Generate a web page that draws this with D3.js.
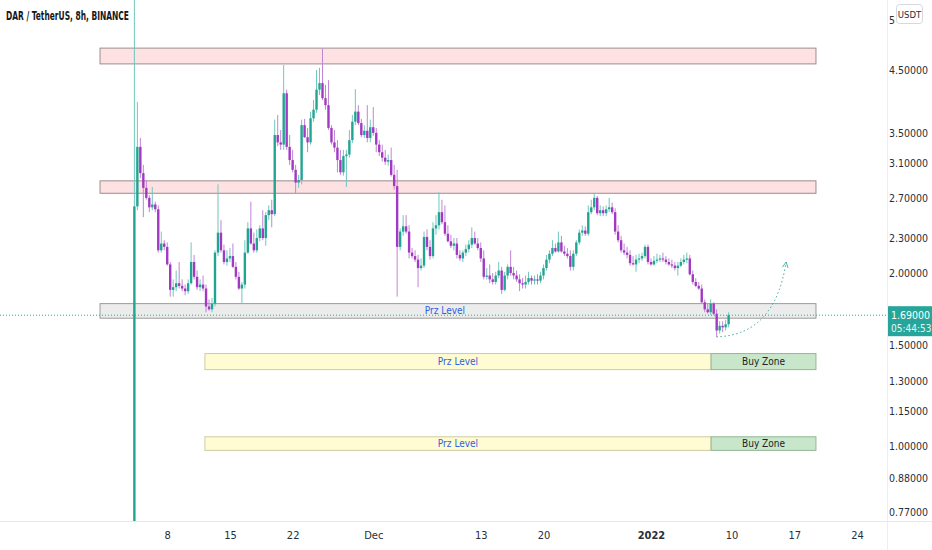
<!DOCTYPE html>
<meta charset="utf-8">
<script src="https://d3js.org/d3.v7.min.js"></script>
<style>
  body { margin: 0; background: #fff; }
  svg { display: block; font-family: "DejaVu Sans Condensed", "Liberation Sans Narrow", sans-serif; }
</style>
<div id="chart"></div>
<script>

// ---- data ----
var title = "DAR / TetherUS, 8h, BINANCE";

// 8h bars, the first one opens Nov 4 2021 08:00
var firstBar = new Date(2021, 10, 4, 8);
var barHours = 8;

var opens = [0.55,2.61,3.31,2.98,2.81,2.70,2.60,2.63,2.58,2.19,2.25,2.22,2.07,1.87,1.89,1.92,1.90,1.88,1.86,1.92,
  2.09,1.97,1.89,1.91,1.88,1.75,1.73,1.77,2.17,2.35,2.19,2.09,2.12,2.14,2.05,1.97,1.88,1.91,2.17,2.39,
  2.25,2.19,2.30,2.39,2.30,2.52,2.57,2.53,3.47,3.37,3.34,4.10,3.31,3.14,3.02,2.87,2.90,3.61,3.44,3.37,
  3.71,3.84,4.16,4.27,4.02,3.91,3.57,3.37,3.30,3.14,2.99,3.19,3.21,3.40,3.66,3.81,3.64,3.47,3.53,3.43,
  3.58,3.50,3.34,3.24,3.17,3.12,3.14,2.96,2.83,2.22,2.36,2.41,2.36,2.17,2.14,2.11,2.04,2.06,2.31,2.22,
  2.14,2.39,2.42,2.55,2.45,2.34,2.27,2.23,2.25,2.15,2.12,2.17,2.20,2.24,2.30,2.25,2.21,2.12,1.97,1.98,
  1.95,1.93,1.98,2.02,1.87,1.98,2.05,2.00,1.98,1.95,1.92,1.91,1.93,1.96,1.94,1.95,1.94,1.98,2.04,2.11,
  2.16,2.21,2.18,2.26,2.18,2.16,2.14,2.05,2.16,2.26,2.35,2.37,2.34,2.55,2.60,2.70,2.54,2.57,2.54,2.58,
  2.60,2.55,2.36,2.28,2.19,2.17,2.15,2.08,2.07,2.11,2.12,2.14,2.22,2.09,2.07,2.10,2.11,2.12,2.11,2.09,
  2.07,2.06,2.04,2.06,2.09,2.11,2.12,1.99,1.93,1.90,1.88,1.78,1.73,1.71,1.77,1.70,1.59,1.62,1.61,1.63];

var highs = [7.00,3.96,3.43,3.08,2.90,2.73,2.82,2.66,2.62,2.36,2.28,2.26,2.09,1.95,2.02,2.09,1.95,1.91,1.95,2.26,
  2.15,2.02,1.95,1.98,1.91,1.80,1.81,2.19,2.85,2.47,2.24,2.19,2.21,2.25,2.09,2.01,1.93,2.28,2.45,2.66,
  2.35,2.38,2.42,2.57,2.55,2.62,2.68,3.69,3.76,3.54,4.59,4.16,3.47,3.27,3.08,2.96,3.69,3.70,3.57,3.81,
  3.99,4.50,4.54,4.90,4.24,4.32,3.61,3.54,3.40,3.27,3.27,3.27,3.54,3.76,4.17,3.91,3.70,3.61,3.91,3.69,
  3.88,3.57,3.40,3.34,3.27,3.21,3.30,3.08,3.02,2.39,2.52,2.52,2.42,2.21,2.19,2.15,2.12,2.36,2.38,2.28,
  2.45,2.52,2.76,2.68,2.62,2.42,2.33,2.30,2.30,2.19,2.19,2.24,2.28,2.40,2.36,2.30,2.26,2.19,2.04,2.07,
  2.00,2.01,2.09,2.05,2.01,2.07,2.19,2.05,2.02,1.99,1.96,1.98,2.01,1.98,1.98,1.99,2.01,2.07,2.15,2.19,
  2.28,2.25,2.36,2.32,2.23,2.21,2.19,2.19,2.28,2.38,2.42,2.41,2.62,2.68,2.75,2.72,2.62,2.61,2.62,2.70,
  2.65,2.59,2.42,2.32,2.25,2.22,2.19,2.14,2.15,2.16,2.17,2.24,2.24,2.12,2.14,2.16,2.15,2.17,2.14,2.12,
  2.11,2.09,2.09,2.12,2.15,2.17,2.15,2.02,1.96,1.93,1.91,1.80,1.77,1.80,1.78,1.73,1.65,1.65,1.66,1.71];

var lows = [0.55,2.57,2.92,2.50,2.68,2.55,2.57,2.55,2.17,2.17,2.19,2.06,1.82,1.82,1.86,1.88,1.86,1.83,1.84,1.91,
  1.95,1.87,1.86,1.86,1.71,1.72,1.71,1.75,2.14,2.17,2.07,2.06,2.09,2.04,1.95,1.87,1.77,1.88,2.16,2.24,
  2.17,2.17,2.27,2.28,2.23,2.47,2.40,2.51,3.32,3.27,3.27,3.27,3.08,2.99,2.75,2.81,2.85,3.43,3.24,3.34,
  3.66,3.79,4.07,3.99,3.84,3.54,3.34,3.24,2.99,2.96,2.95,2.82,3.17,3.36,3.61,3.61,3.44,3.43,3.37,3.37,
  3.46,3.24,3.19,3.12,3.08,3.07,2.94,2.79,1.82,2.19,2.32,2.34,2.12,2.12,2.09,1.89,2.02,2.04,2.19,2.11,
  2.12,2.33,2.38,2.43,2.32,2.26,2.21,2.19,2.12,2.10,2.09,2.14,2.17,2.21,2.24,2.19,2.09,1.95,1.95,1.92,
  1.91,1.91,1.96,1.84,1.86,1.95,1.98,1.95,1.93,1.86,1.88,1.88,1.91,1.91,1.91,1.91,1.92,1.95,2.02,2.08,
  2.14,2.17,2.17,2.17,2.14,2.12,2.02,2.02,2.14,2.24,2.32,2.32,2.32,2.53,2.57,2.52,2.51,2.51,2.51,2.55,
  2.53,2.33,2.26,2.17,2.15,2.12,2.06,2.06,2.01,2.08,2.10,2.12,2.07,2.06,2.06,2.08,2.09,2.09,2.07,2.06,
  2.04,2.02,1.98,2.05,2.07,2.08,1.98,1.91,1.89,1.87,1.77,1.71,1.70,1.69,1.69,1.55,1.57,1.58,1.59,1.61];

var closes = [2.61,3.31,2.98,2.81,2.70,2.60,2.63,2.58,2.19,2.25,2.22,2.07,1.87,1.89,1.92,1.90,1.88,1.86,1.92,2.09,
  1.97,1.89,1.91,1.88,1.75,1.73,1.77,2.17,2.35,2.19,2.09,2.12,2.14,2.05,1.97,1.88,1.91,2.17,2.39,2.25,
  2.19,2.30,2.39,2.30,2.52,2.57,2.53,3.47,3.37,3.34,4.10,3.31,3.14,3.02,2.87,2.90,3.61,3.44,3.37,3.71,
  3.84,4.16,4.27,4.02,3.91,3.57,3.37,3.30,3.14,2.99,3.19,3.21,3.40,3.66,3.81,3.64,3.47,3.53,3.43,3.58,
  3.50,3.34,3.24,3.17,3.12,3.14,2.96,2.83,2.22,2.36,2.41,2.36,2.17,2.14,2.11,2.04,2.06,2.31,2.22,2.14,
  2.39,2.42,2.55,2.45,2.34,2.27,2.23,2.25,2.15,2.12,2.17,2.20,2.24,2.30,2.25,2.21,2.12,1.97,1.98,1.95,
  1.93,1.98,2.02,1.87,1.98,2.05,2.00,1.98,1.95,1.92,1.91,1.93,1.96,1.94,1.95,1.94,1.98,2.04,2.11,2.16,
  2.21,2.18,2.26,2.18,2.16,2.14,2.05,2.16,2.26,2.35,2.37,2.34,2.55,2.60,2.70,2.54,2.57,2.54,2.58,2.60,
  2.55,2.36,2.28,2.19,2.17,2.15,2.08,2.07,2.11,2.12,2.14,2.22,2.09,2.07,2.10,2.11,2.12,2.11,2.09,2.07,
  2.06,2.04,2.06,2.09,2.11,2.12,1.99,1.93,1.90,1.88,1.78,1.73,1.71,1.77,1.70,1.59,1.62,1.61,1.63,1.69];

var lastPrice = 1.69;
var countdown = "05:44:53";

// price scale ticks (top one sits under the USDT tag, only its first digit shows)
var priceTicks = [5.5, 4.5, 3.5, 3.1, 2.7, 2.3, 2.0, 1.5, 1.3, 1.15, 1.0, 0.88, 0.77];

var dateTicks = [new Date(2021,10,8), new Date(2021,10,15), new Date(2021,10,22), new Date(2021,11,1),
  new Date(2021,11,13), new Date(2021,11,20), new Date(2022,0,1), new Date(2022,0,10),
  new Date(2022,0,17), new Date(2022,0,24)];
var dateLabels = ["8", "15", "22", "Dec", "13", "20", "2022", "10", "17", "24"];

// drawn zones
var zoneStart = new Date(2021, 9, 31, 12);
var zoneEnd = new Date(2022, 0, 19, 10);
var resistTop = [4.91, 2.89];
var resistBottom = [4.61, 2.75];
var przTop = 1.77, przBottom = 1.67, przLabelDate = new Date(2021, 11, 9);
var buyStart = new Date(2021, 10, 12, 5);
var buySplit = new Date(2022, 0, 7, 17);
var buyTop = [1.45, 1.04];
var buyBottom = [1.36, 0.985];

// projected path: start, control, end
var arrowDates = [new Date(2022, 0, 8, 7), new Date(2022, 0, 14, 20), new Date(2022, 0, 16, 2)];
var arrowPrices = [1.55, 1.56, 2.09];

// ---- layout ----
var width = 932, height = 550;
var plotW = 888, plotH = 521;
var axisFont = "'DejaVu Sans Condensed', 'Liberation Sans Narrow', sans-serif";

var teal = "#22a493", purple = "#a239c2";
var tealWick = "#6fc8bc", purpleWick = "#c184d6";

var svg = d3.select("#chart").append("svg")
    .attr("width", width)
    .attr("height", height);

var x = d3.scaleTime()
    .domain([new Date(2021, 9, 20, 8), new Date(2022, 0, 27, 11)])
    .range([0, plotW]);

var y = d3.scaleLog()
    .domain([0.743, 5.95])
    .range([plotH, 0]);

var defs = svg.append("defs");
defs.append("clipPath").attr("id", "plot")
  .append("rect").attr("width", plotW).attr("height", plotH);

var plot = svg.append("g").attr("clip-path", "url(#plot)");

// resistance bands
resistTop.forEach(function(t, i) {
  plot.append("rect")
    .attr("x", x(zoneStart)).attr("width", x(zoneEnd) - x(zoneStart))
    .attr("y", y(t)).attr("height", y(resistBottom[i]) - y(t))
    .attr("fill", "rgba(242,54,69,0.15)")
    .attr("stroke", "#9b8d8f").attr("stroke-width", 1);
});

// prz level around price
plot.append("rect")
  .attr("x", x(zoneStart)).attr("width", x(zoneEnd) - x(zoneStart))
  .attr("y", y(przTop)).attr("height", y(przBottom) - y(przTop))
  .attr("fill", "rgba(150,150,155,0.18)")
  .attr("stroke", "#9a9a9a").attr("stroke-width", 1);
plot.append("text")
  .attr("x", x(przLabelDate)).attr("y", y(Math.sqrt(przTop * przBottom)))
  .attr("dy", "0.35em").attr("text-anchor", "middle")
  .style("font-size", "10px").attr("fill", "#2f62e0")
  .text("Prz Level");

// buy zones below
buyTop.forEach(function(t, i) {
  var yt = y(t), yb = y(buyBottom[i]), ym = y(Math.sqrt(t * buyBottom[i]));
  plot.append("rect")
    .attr("x", x(buyStart)).attr("width", x(buySplit) - x(buyStart))
    .attr("y", yt).attr("height", yb - yt)
    .attr("fill", "#fffbd2").attr("stroke", "#cfcba4");
  plot.append("rect")
    .attr("x", x(buySplit)).attr("width", x(zoneEnd) - x(buySplit))
    .attr("y", yt).attr("height", yb - yt)
    .attr("fill", "#c8e6c9").attr("stroke", "#92b894");
  plot.append("text")
    .attr("x", (x(buyStart) + x(buySplit)) / 2).attr("y", ym).attr("dy", "0.35em")
    .attr("text-anchor", "middle").style("font-size", "10px").attr("fill", "#2f62e0")
    .text("Prz Level");
  plot.append("text")
    .attr("x", (x(buySplit) + x(zoneEnd)) / 2).attr("y", ym).attr("dy", "0.35em")
    .attr("text-anchor", "middle").style("font-size", "10px").attr("fill", "#222")
    .text("Buy Zone");
});

// candles
var bars = closes.map(function(c, i) {
  return {t: d3.timeHour.offset(firstBar, i * barHours), o: opens[i], h: highs[i], l: lows[i], c: c};
});
var barW = (x(d3.timeHour.offset(firstBar, barHours)) - x(firstBar)) * 0.8;

var candle = plot.append("g").selectAll("g")
  .data(bars)
  .enter().append("g");

candle.append("line")
  .attr("x1", function(d) { return x(d.t); })
  .attr("x2", function(d) { return x(d.t); })
  .attr("y1", function(d) { return y(d.h); })
  .attr("y2", function(d) { return y(d.l); })
  .attr("stroke", function(d) { return d.c >= d.o ? tealWick : purpleWick; })
  .attr("stroke-width", 1);

candle.append("rect")
  .attr("x", function(d) { return x(d.t) - barW / 2; })
  .attr("width", barW)
  .attr("y", function(d) { return y(Math.max(d.o, d.c)); })
  .attr("height", function(d) { return Math.max(1, Math.abs(y(d.o) - y(d.c))); })
  .attr("fill", function(d) { return d.c >= d.o ? teal : purple; });

// projection arrow
var ax = arrowDates.map(function(d) { return x(d); });
var ay = arrowPrices.map(function(p) { return y(p); });
defs.append("marker")
    .attr("id", "head").attr("viewBox", "0 0 10 10")
    .attr("refX", 9).attr("refY", 5)
    .attr("markerWidth", 7).attr("markerHeight", 7)
    .attr("orient", "auto")
  .append("path")
    .attr("d", "M1,1 L9,5 L1,9")
    .attr("fill", "none").attr("stroke", "#3aa79a").attr("stroke-width", 1.2);
plot.append("path")
  .attr("d", "M" + ax[0] + "," + ay[0] + " Q" + ax[1] + "," + ay[1] + " " + ax[2] + "," + ay[2])
  .attr("fill", "none").attr("stroke", "#3aa79a").attr("stroke-width", 1)
  .attr("stroke-dasharray", "1.5,2.5")
  .attr("marker-end", "url(#head)");

// last price line
svg.append("line")
  .attr("x1", 0).attr("x2", plotW)
  .attr("y1", y(lastPrice)).attr("y2", y(lastPrice))
  .attr("stroke", "#26a69a").attr("stroke-width", 1)
  .attr("stroke-dasharray", "1,2");

// axis borders
svg.append("line").attr("x1", plotW - 0.5).attr("x2", plotW - 0.5).attr("y1", 0).attr("y2", height)
  .attr("stroke", "#eceef2");
svg.append("line").attr("x1", 0).attr("x2", width).attr("y1", plotH + 0.5).attr("y2", plotH + 0.5)
  .attr("stroke", "#e6e8ee");

// price axis; the USDT tag hides everything after the first digit of the top tick
var fmt = d3.format(".5f");
var yAxis = svg.append("g")
  .attr("transform", "translate(" + plotW + ",0)")
  .call(d3.axisRight(y).tickValues(priceTicks)
    .tickFormat(function(d) { return d === priceTicks[0] ? fmt(d).charAt(0) : fmt(d); })
    .tickSize(0).tickPadding(1));
yAxis.select(".domain").remove();
yAxis.selectAll("text").style("font-size", "10.5px").attr("fill", "#2a2e39")
  .style("font-family", axisFont);

// date axis
var xAxis = svg.append("g")
  .attr("transform", "translate(0," + plotH + ")")
  .call(d3.axisBottom(x).tickValues(dateTicks)
    .tickFormat(function(d, i) { return dateLabels[i]; }).tickSize(0).tickPadding(10));
xAxis.select(".domain").remove();
xAxis.selectAll("text").style("font-size", "11px").attr("fill", "#2a2e39")
  .style("font-family", axisFont)
  .style("font-weight", function(d, i) { return dateLabels[i] === "2022" ? "bold" : "normal"; });

// USDT tag
svg.append("rect")
  .attr("x", 896.5).attr("y", 4.5).attr("width", 26).attr("height", 19).attr("rx", 3)
  .attr("fill", "#fff").attr("stroke", "#d6d8de");
svg.append("text")
  .attr("x", 909.5).attr("y", 17.5).attr("text-anchor", "middle")
  .style("font-size", "9.5px").attr("fill", "#2a2e39")
  .text("USDT");

// last price tag
var ly = y(lastPrice);
svg.append("rect")
  .attr("x", plotW).attr("y", ly - 9).attr("width", width - plotW).attr("height", 30)
  .attr("fill", "#26a69a");
svg.append("text")
  .attr("x", plotW + 3).attr("y", ly + 4)
  .style("font-size", "10.5px").attr("fill", "#fff")
  .text(fmt(lastPrice));
svg.append("text")
  .attr("x", plotW + 3).attr("y", ly + 17)
  .style("font-size", "10px").attr("fill", "#e6f5f3")
  .text(countdown);

// title
svg.append("text")
  .attr("x", 6).attr("y", 20)
  .attr("textLength", 123).attr("lengthAdjust", "spacingAndGlyphs")
  .style("font-size", "12px").style("font-weight", "bold").attr("fill", "#131722")
  .text(title);
</script>
